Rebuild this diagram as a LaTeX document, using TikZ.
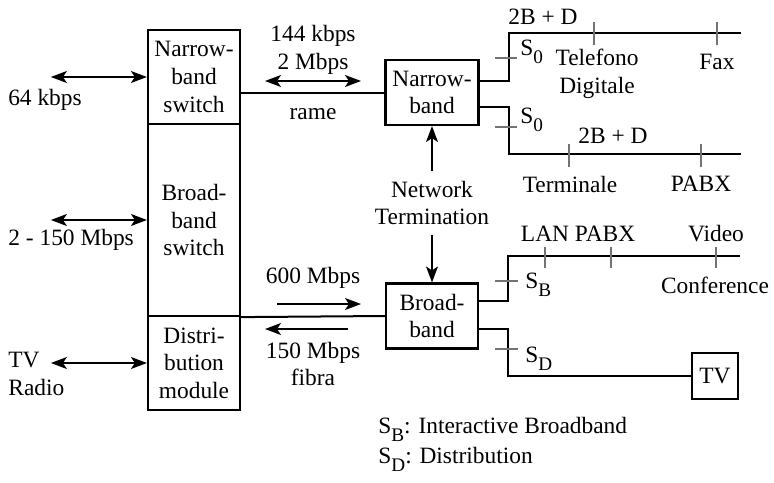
\documentclass[tikz,border=0pt]{standalone}
\usepackage{fontspec}
\setmainfont{Liberation Serif}
\usetikzlibrary{arrows.meta}

\tikzset{
  box/.style={draw, line width=1.1pt, align=center, inner sep=0pt},
  wire/.style={line width=1pt},
  tick/.style={black!55, line width=0.6pt},
  arr/.style={line width=0.7pt, -{Stealth[length=8pt, width=6pt, inset=2pt]}},
  biarr/.style={line width=0.7pt, {Stealth[length=8pt, width=6pt, inset=2pt]}-{Stealth[length=8pt, width=6pt, inset=2pt]}},
  lbl/.style={align=center, inner sep=0pt}
}
\newcommand{\lowsub}[1]{\raisebox{-4pt}{\fontsize{9.6}{11}\selectfont #1}}

\begin{document}
\begin{tikzpicture}[
  x=0.5pt,
  y=-0.5pt,
  font=\fontsize{11.7}{13.8}\selectfont
]
\useasboundingbox (0,0) rectangle (774,482);

% exchange column
\node[box, minimum width=46pt, minimum height=47pt] (nsw) at (194,77) {Narrow-\\band\\switch};
\node[box, minimum width=46pt, minimum height=96pt] (bsw) at (194,220) {Broad-\\band\\switch};
\node[box, minimum width=46pt, minimum height=47pt] (dmod) at (194,363) {Distri-\\bution\\module};

\draw[biarr] (nsw.west) -- ++(-96,0);
\node[lbl] (r64) at (45,100) {64 kbps};
\draw[biarr] (bsw.west) -- ++(-96,0);
\node[lbl, anchor=west] (r150) at (8,240) {2 - 150 Mbps};
\draw[biarr] (dmod.west) -- ++(-96,0);
\node[lbl, anchor=west, align=left] (rtv) at (8,374) {TV\\Radio};

% network termination
\node[box, minimum width=46.5pt, minimum height=32.5pt] (nb) at (432,92.5) {Narrow-\\band};
\node[box, minimum width=46pt, minimum height=32.5pt] (bb) at (432,316) {Broad-\\band};
\node[lbl, inner sep=5pt] (nt) at (432,203) {Network\\Termination};
\draw[arr] (nt.north) -- (nb.south);
\draw[arr] (nt.south) -- (bb.north);

% trunks
\draw[wire] (nb.west -| nsw.east) -- (nb.west);
\node[lbl] (rate1) at (313,50) {144 kbps\\2 Mbps};
\draw[biarr] (265,81) -- (361,81);
\node[lbl] (rame) at (313,114) {rame};

\draw[wire] (bsw.south east) -- (bb.west);
\node[lbl] (rate2) at (313,278) {600 Mbps};
\draw[arr] (277,304) -- (361,304);
\draw[arr] (348,329) -- (265,329);
\node[lbl] (rate3) at (313,364) {150 Mbps\\fibra};

% narrowband buses
\coordinate (nbusA) at (741,33);
\coordinate (nbusB) at (741,154);
\draw[wire] ([yshift=6pt]nb.east) -- ++(29,0) |- (nbusA);
\draw[wire] ([yshift=-7pt]nb.east) -- ++(29,0) |- (nbusB);
\draw[tick] (495,58) -- (517,58);
\draw[tick] (495,127) -- (517,127);
\foreach \x in {594,717} {
  \draw[tick] (\x,22) -- (\x,45);
}
\foreach \x in {569,701} {
  \draw[tick] (\x,144) -- (\x,167);
}
\node[lbl] (bdA) at (543,17) {2B + D};
\node[lbl, anchor=base west] (s0a) at (520,55) {S\lowsub{0}};
\node[lbl] (tel) at (597,74) {Telefono\\Digitale};
\node[lbl] (fax) at (717,62) {Fax};
\node[lbl, anchor=base west] (s0b) at (520,123) {S\lowsub{0}};
\node[lbl] (bdB) at (613,136) {2B + D};
\node[lbl] (term) at (570,184) {Terminale};
\node[lbl] (pabxA) at (701,184) {PABX};

% broadband buses
\coordinate (bbus) at (740,256);
\node[box, minimum width=23pt, minimum height=23pt] (tv) at (715,376) {TV};
\draw[wire] ([yshift=7.5pt]bb.east) -- ++(29,0) |- (bbus);
\draw[wire] ([yshift=-6.5pt]bb.east) -- ++(29,0) |- (tv.west);
\draw[tick] (495,281) -- (518,281);
\draw[tick] (495,349) -- (518,349);
\foreach \x in {545,611,716} {
  \draw[tick] (\x,247) -- (\x,268);
}
\node[lbl] (lan) at (545,234) {LAN};
\node[lbl] (pabxB) at (605,234) {PABX};
\node[lbl] (video) at (716,234) {Video};
\node[lbl] (conf) at (715,285) {Conference};
\node[lbl, anchor=base west] (sb) at (525,288) {S\lowsub{B}};
\node[lbl, anchor=base west] (sd) at (525,362) {S\lowsub{D}};

% legend
\node[lbl, anchor=base west] (legB) at (378,433) {S\lowsub{B}: Interactive Broadband};
\node[lbl, anchor=base west] (legD) at (378,463) {S\lowsub{D}: Distribution};
\end{tikzpicture}
\end{document}
